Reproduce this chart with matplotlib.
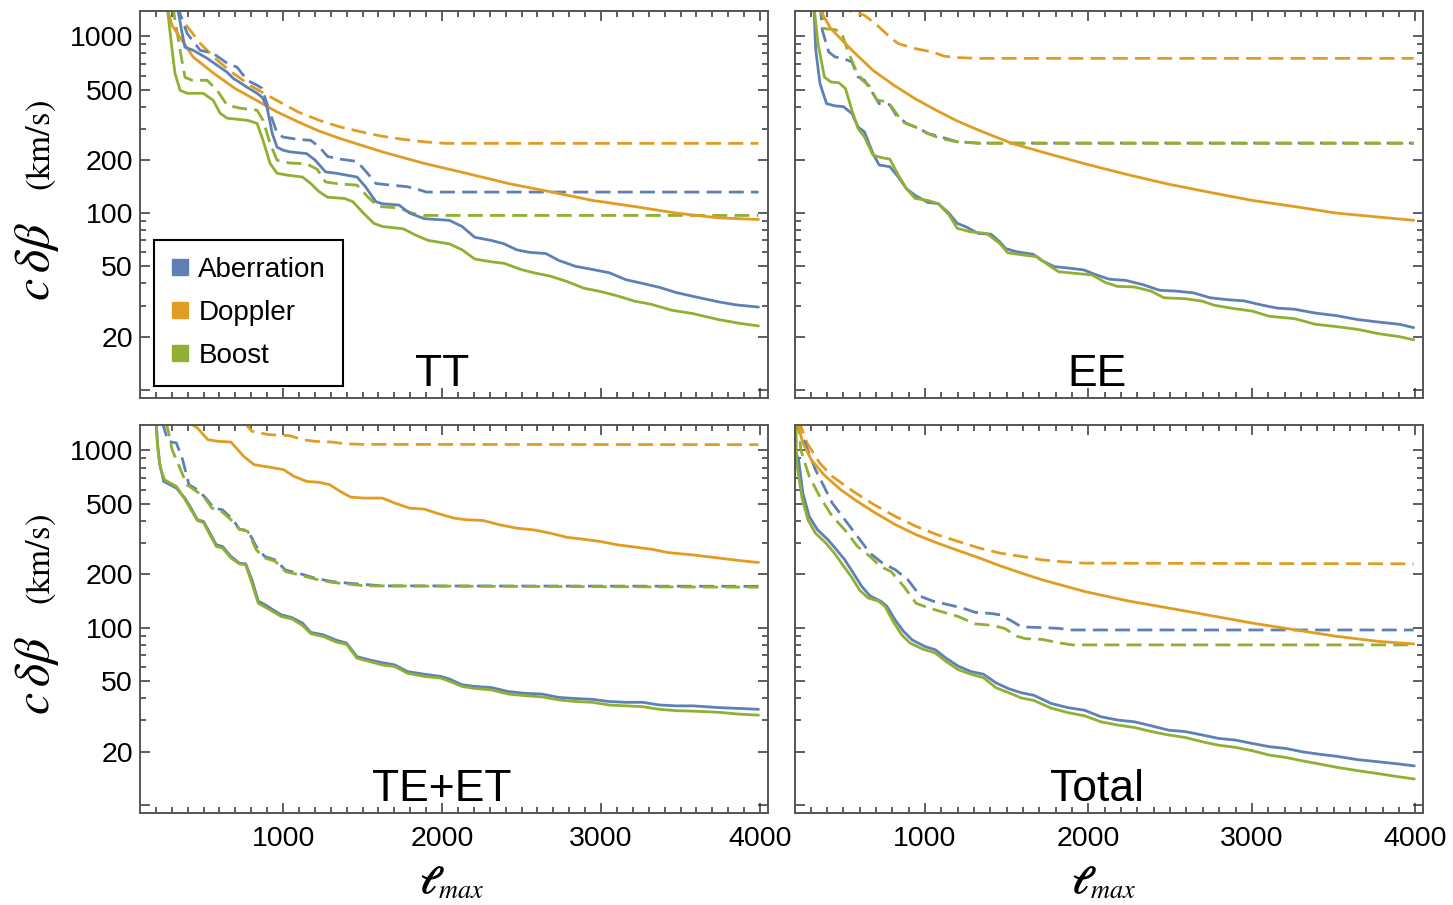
import matplotlib
matplotlib.use('Agg')
import matplotlib.pyplot as plt
from matplotlib.ticker import FixedLocator, FixedFormatter, NullFormatter
from matplotlib.lines import Line2D

plt.rcParams['mathtext.fontset'] = 'stix'
plt.rcParams['font.family'] = ['Liberation Sans', 'DejaVu Sans']

C_AB = '#5E81B5'
C_DO = '#E19C24'
C_BO = '#8FB032'

series_labels = ['Aberration', 'Doppler', 'Boost']
panel_titles = ['TT', 'EE', 'TE+ET', 'Total']
y_major = [10, 20, 50, 100, 200, 500, 1000]
y_major_labels = ['', '20', '50', '100', '200', '500', '1000']
y_minor = [30, 40, 60, 70, 80, 90, 300, 400, 600, 700, 800, 900]
x_major = [1000, 2000, 3000, 4000]
x_minor = list(range(200, 4001, 100))

# ---------------- TT ----------------
tt_ab_l = [333, 365, 383, 434, 522, 585, 648, 686, 774, 836, 870, 899, 931, 962, 1000, 1042, 1148, 1200, 1267, 1333,
           1465, 1518, 1584, 1624, 1730, 1795, 1888, 2046, 2126, 2205, 2311, 2390, 2469, 2549, 2654, 2734, 2839, 2945,
           3051, 3156, 3262, 3368, 3474, 3606, 3738, 3844, 3990]
tt_ab_v = [1500, 1040, 867, 834, 751, 686, 626, 579, 515, 476, 450, 397, 284, 236, 227, 222, 217, 200, 171, 168,
           160, 141, 116, 113, 111, 100, 93, 91, 84, 73, 70, 67, 62, 60, 59, 54, 50, 48,
           46, 42, 40, 38, 35.5, 33.4, 31.5, 30.3, 29.4]
tt_bo_l = [270, 302, 320, 352, 396, 497, 560, 604, 648, 774, 836, 874, 918, 962, 1025, 1122, 1174, 1227, 1280, 1386,
           1439, 1505, 1571, 1624, 1756, 1835, 1914, 2046, 2126, 2205, 2311, 2390, 2496, 2575, 2681, 2786, 2892, 2998,
           3104, 3209, 3315, 3447, 3579, 3738, 3870, 3990]
tt_bo_v = [1500, 834, 618, 495, 476, 476, 435, 367, 344, 335, 322, 258, 191, 168, 164, 160, 147, 132, 123, 121,
           116, 100, 87.5, 84, 81.5, 75, 70, 67, 62, 55, 53, 52, 48, 46, 44, 41, 37.6, 36,
           34, 31.8, 30.5, 28.2, 27, 25, 23.8, 23]
tt_do_l = [270, 302, 434, 566, 699, 831, 963, 1095, 1227, 1359, 1492, 1624, 1888, 2152, 2417, 2681, 2945, 3209,
           3474, 3738, 3990]
tt_do_v = [1450, 1150, 764, 615, 506, 435, 373, 328, 291, 264, 242, 222, 191, 168, 147, 132, 118, 109,
           100, 94, 92]
tt_do_dash_l = [330, 352, 478, 585, 686, 792, 899, 1000, 1095, 1227, 1359, 1492, 1624, 1756, 1888, 2020, 3990]
tt_do_dash_v = [1500, 1285, 913, 732, 618, 528, 465, 415, 373, 335, 307, 288, 272, 261, 253, 248, 248]
tt_ab_dash_l = [333, 396, 478, 560, 648, 711, 774, 836, 868, 918, 962, 1000, 1095, 1174, 1227, 1280, 1359, 1465,
                1531, 1584, 1677, 1782, 1862, 1901, 3990]
tt_ab_dash_v = [1500, 1040, 834, 801, 704, 668, 564, 529, 508, 367, 284, 269, 261, 258, 237, 209, 202, 196,
                168, 147, 144, 141, 135, 131.5, 131.5]
tt_bo_dash_l = [305, 352, 383, 427, 522, 585, 648, 730, 836, 874, 918, 962, 1042, 1148, 1214, 1267, 1359, 1465,
                1531, 1597, 1730, 1809, 1888, 3990]
tt_bo_dash_v = [1500, 834, 586, 564, 564, 495, 408, 392, 382, 335, 248, 199, 192, 190, 177, 150, 146, 144,
                124, 109, 107, 100, 97, 97]

# ---------------- EE ----------------
ee_do_dash_l = [480, 527, 630, 708, 785, 837, 940, 1043, 1120, 1198, 1327, 3990]
ee_do_dash_v = [1550, 1403, 1314, 1154, 991, 909, 852, 816, 771, 758, 750, 750]
ee_do_l = [330, 359, 424, 553, 682, 811, 939, 1068, 1197, 1326, 1532, 1713, 1970, 2228, 2486, 2744, 3001, 3259,
           3517, 3774, 3990]
ee_do_v = [1600, 1403, 1105, 834, 642, 528, 444, 382, 332, 295, 248, 222, 191, 166, 146, 131, 118, 109,
           100, 95, 91]
ee_ab_dash_l = [360, 372, 411, 450, 501, 553, 591, 630, 682, 720, 785, 824, 888, 966, 1017, 1095, 1198, 1330, 3990]
ee_ab_dash_v = [1500, 1081, 816, 764, 748, 716, 588, 564, 474, 416, 410, 358, 321, 301, 282, 270, 253, 249, 249]
ee_bo_dash_l = [370, 385, 450, 488, 527, 578, 617, 656, 707, 772, 811, 862, 940, 1017, 1095, 1198, 1330, 3990]
ee_bo_dash_v = [1500, 1105, 1090, 1058, 834, 642, 564, 529, 435, 426, 382, 328, 307, 282, 264, 253, 248, 248]
ee_ab_l = [320, 332, 358, 398, 450, 501, 553, 591, 630, 682, 720, 785, 837, 888, 940, 1017, 1082, 1146, 1198, 1250,
           1327, 1404, 1456, 1494, 1559, 1662, 1714, 1791, 1869, 1972, 2049, 2127, 2230, 2333, 2436, 2539, 2642,
           2745, 2848, 2951, 3054, 3157, 3260, 3389, 3518, 3647, 3775, 3904, 3990]
ee_ab_v = [1500, 834, 540, 416, 404, 400, 366, 307, 288, 217, 187, 183, 160, 137, 126, 115, 113, 100, 87.5, 83.7,
           76.7, 76, 69, 63, 60.5, 58.5, 54, 49.8, 49, 47.7, 44.7, 42.3, 41.6, 39.4, 36.6, 36.2, 35.4,
           33.2, 32.4, 31.9, 30.3, 29.0, 28.6, 27.2, 26.3, 25.0, 24.2, 23.5, 22.5]
ee_bo_l = [320, 346, 385, 424, 475, 514, 553, 591, 630, 682, 733, 785, 837, 888, 940, 1017, 1082, 1146, 1198, 1275,
           1378, 1456, 1507, 1611, 1688, 1740, 1817, 1920, 2023, 2101, 2178, 2281, 2384, 2462, 2591, 2694, 2771,
           2874, 3003, 3106, 3260, 3389, 3518, 3647, 3775, 3904, 3990]
ee_bo_v = [1500, 909, 588, 552, 545, 506, 382, 301, 270, 213, 206, 202, 164, 137, 121, 118, 113, 98, 82, 78.5,
           76.7, 67.5, 59.6, 57.8, 56.6, 52, 46.6, 45.6, 44.7, 40.6, 38.5, 38.2, 36.2, 33.2, 32.8, 31.8, 30.1,
           29.0, 27.9, 26.1, 25.3, 23.5, 22.8, 22.0, 20.8, 20.0, 19.2]

# ---------------- TE+ET ----------------
te_do_dash_l = [752, 804, 910, 1042, 1122, 1201, 1307, 1386, 1492, 3990]
te_do_dash_v = [1450, 1281, 1226, 1210, 1149, 1124, 1114, 1090, 1081, 1077]
te_do_l = [400, 461, 527, 593, 672, 752, 818, 910, 1003, 1069, 1148, 1227, 1293, 1359, 1425, 1505, 1624, 1703, 1795,
           1888, 1967, 2073, 2152, 2258, 2364, 2469, 2575, 2681, 2786, 2892, 2998, 3104, 3209, 3315, 3421, 3579,
           3738, 3870, 3990]
te_do_v = [1450, 1337, 1149, 1124, 1114, 925, 830, 805, 778, 713, 668, 660, 640, 587, 545, 538, 538, 504, 472,
           466, 442, 415, 406, 402, 380, 364, 356, 341, 323, 315, 306, 293, 285, 277, 265, 257,
           247, 239, 233]
te_ab_dash_l = [240, 276, 329, 368, 408, 461, 514, 566, 619, 685, 725, 778, 831, 884, 950, 1016, 1095, 1201, 1307,
                1412, 1518, 1624, 3990]
te_ab_dash_v = [1450, 1124, 1100, 886, 640, 600, 538, 472, 462, 406, 359, 353, 287, 252, 241, 211, 203, 190, 182,
                178, 175, 172, 171]
te_bo_dash_l = [260, 276, 302, 355, 395, 434, 500, 553, 606, 672, 725, 778, 831, 884, 950, 1016, 1095, 1201, 1307,
                1412, 1518, 3990]
te_bo_dash_v = [1450, 1308, 1009, 778, 640, 605, 550, 472, 458, 406, 359, 349, 275, 247, 237, 207, 199, 188, 180,
                176, 172, 169]
te_ab_l = [200, 210, 223, 249, 289, 329, 382, 421, 461, 500, 540, 580, 619, 672, 725, 765, 804, 844, 884, 937, 989,
           1055, 1122, 1174, 1254, 1333, 1399, 1465, 1544, 1624, 1703, 1782, 1888, 1994, 2046, 2126, 2205, 2311,
           2416, 2522, 2628, 2734, 2839, 2945, 3051, 3156, 3262, 3368, 3474, 3580, 3738, 3870, 3990]
te_ab_v = [1500, 1100, 848, 668, 640, 612, 538, 472, 406, 397, 341, 293, 287, 252, 231, 229, 186, 141, 135, 126, 118,
           114, 106, 94, 91, 85, 81.8, 68.6, 65.7, 63.4, 61.6, 56.5, 54.6, 53.0, 51.3, 47.6, 46.6, 45.9,
           43.6, 42.6, 42.2, 40.4, 39.8, 39.4, 38.3, 37.9, 37.9, 36.6, 36.2, 36.2, 35.4, 35.0, 34.6]
te_bo_l = [200, 210, 228, 255, 289, 329, 382, 421, 461, 500, 540, 580, 619, 672, 725, 765, 804, 844, 884, 937, 989,
           1055, 1122, 1174, 1254, 1333, 1399, 1465, 1544, 1624, 1703, 1782, 1888, 1994, 2046, 2126, 2205, 2311,
           2416, 2522, 2628, 2734, 2839, 2945, 3051, 3156, 3262, 3368, 3474, 3580, 3738, 3870, 3990]
te_bo_v = [1500, 1055, 795, 683, 654, 626, 531, 462, 402, 391, 334, 287, 281, 247, 229, 226, 178, 137, 131, 123,
           115.5, 112, 103, 92.5, 89, 83, 80.5, 67.2, 64.4, 61.6, 60.3, 55.3, 53.0, 51.9, 49.8, 46.6, 45.4, 44.5,
           42.2, 41.3, 40.7, 39.1, 38.3, 37.9, 36.6, 36.2, 35.8, 34.6, 34.0, 33.8, 33.3, 32.5, 32.1]

# ---------------- Total ----------------
tot_do_dash_l = [225, 279, 356, 433, 562, 690, 819, 947, 1076, 1204, 1333, 1461, 1590, 1718, 1847, 1976, 3990]
tot_do_dash_v = [1500, 1100, 848, 713, 586, 493, 424, 372, 334, 306, 281, 263, 252, 241, 235, 231, 229]
tot_do_l = [215, 253, 305, 382, 484, 587, 690, 819, 947, 1076, 1204, 1333, 1461, 1590, 1718, 1976, 2233, 2490, 2747,
            3004, 3261, 3518, 3775, 3990]
tot_do_v = [1500, 1100, 885, 728, 600, 515, 447, 381, 334, 300, 272, 247, 223, 203, 186, 160, 142, 129, 117,
            106, 97.3, 89.3, 83.6, 80.9]
tot_ab_dash_l = [210, 227, 266, 330, 382, 433, 510, 587, 664, 741, 819, 896, 973, 1050, 1153, 1230, 1307, 1410, 1461,
                 1538, 1590, 1718, 1821, 1885, 3990]
tot_ab_dash_v = [1500, 1308, 1100, 778, 626, 504, 406, 327, 263, 231, 212, 186, 150, 141, 134, 129, 122, 120, 118,
                 108, 101, 100, 99, 97, 97]
tot_bo_dash_l = [225, 240, 292, 356, 433, 510, 587, 664, 729, 793, 870, 947, 1024, 1102, 1204, 1307, 1410, 1487,
                 1564, 1616, 1718, 1821, 1898, 3990]
tot_bo_dash_v = [1500, 1009, 713, 550, 424, 356, 287, 252, 221, 207, 171, 137, 129, 123, 115.5, 105, 103, 99,
                 89.3, 86.6, 85.8, 82.1, 79.9, 79.9]
tot_ab_l = [205, 227, 253, 292, 343, 407, 459, 510, 562, 613, 664, 729, 767, 819, 870, 922, 999, 1063, 1127, 1204,
            1281, 1358, 1435, 1513, 1590, 1667, 1770, 1872, 1976, 2078, 2180, 2284, 2387, 2490, 2593, 2696, 2798,
            2901, 3004, 3107, 3210, 3312, 3415, 3518, 3647, 3775, 3878, 3994]
tot_ab_v = [1000, 886, 574, 424, 356, 313, 275, 241, 203, 171, 151, 141, 132, 110, 95, 85.2, 78.3, 75.0, 67.5, 60.6,
            56.5, 54.6, 48.8, 45.2, 42.9, 41.5, 37.4, 35.4, 34.2, 31.4, 30.1, 29.4, 27.9, 26.4, 25.9, 24.8, 23.7,
            23.2, 22.2, 21.3, 20.8, 19.9, 19.3, 18.8, 18.0, 17.5, 17.1, 16.6]
tot_bo_l = [210, 215, 248, 284, 330, 394, 446, 497, 549, 600, 652, 716, 755, 806, 858, 909, 986, 1063, 1127, 1204,
            1281, 1358, 1435, 1513, 1590, 1667, 1770, 1872, 1976, 2078, 2180, 2284, 2387, 2490, 2593, 2696, 2798,
            2901, 3004, 3107, 3210, 3312, 3415, 3518, 3647, 3775, 3878, 3994]
tot_bo_v = [1500, 848, 538, 406, 341, 300, 263, 226, 194, 163, 147, 141, 132, 108, 91, 81.8, 75.7, 72.0, 64.6, 57.9,
            54.6, 52.2, 45.8, 42.9, 40.1, 38.8, 35.2, 33.2, 31.8, 29.4, 28.2, 27.3, 25.9, 24.8, 24.0, 22.7, 21.7,
            21.1, 20.2, 19.1, 18.5, 17.7, 17.0, 16.3, 15.6, 15.0, 14.5, 14.0]

YMIN, YMAX = 9.0, 1390
XLIM_LEFT = (100, 4050)
XLIM_RIGHT = (205, 4047)

fig = plt.figure(figsize=(14.53, 9.05), dpi=100)
W, H = 1453.0, 905.0
ax_tt = fig.add_axes([140 / W, 1 - 398 / H, 628 / W, 387 / H])
ax_ee = fig.add_axes([795 / W, 1 - 398 / H, 628 / W, 387 / H])
ax_te = fig.add_axes([140 / W, 1 - 813 / H, 628 / W, 388 / H])
ax_to = fig.add_axes([795 / W, 1 - 813 / H, 628 / W, 388 / H])

LW = 2.0


def line(ax, l, v, color, dashed):
    if dashed:
        ax.plot(l, v, color=color, lw=LW, ls='--', dashes=(5.4, 2.6), dash_joinstyle='round', dash_capstyle='butt')
    else:
        ax.plot(l, v, color=color, lw=LW, solid_joinstyle='round', solid_capstyle='round')


def style(ax, xlim, show_x, show_y, title):
    ax.set_yscale('log')
    ax.set_xlim(*xlim)
    ax.set_ylim(YMIN, YMAX)
    ax.yaxis.set_major_locator(FixedLocator(y_major))
    ax.yaxis.set_major_formatter(FixedFormatter(y_major_labels))
    ax.yaxis.set_minor_locator(FixedLocator(y_minor))
    ax.yaxis.set_minor_formatter(NullFormatter())
    ax.xaxis.set_major_locator(FixedLocator(x_major))
    ax.xaxis.set_major_formatter(FixedFormatter([str(v) for v in x_major]))
    ax.xaxis.set_minor_locator(FixedLocator(x_minor))
    ax.xaxis.set_minor_formatter(NullFormatter())
    ax.tick_params(which='both', direction='in', top=True, right=True, color='#333333', width=1.1)
    ax.tick_params(which='major', length=7.5)
    ax.tick_params(which='minor', length=4)
    ax.tick_params(axis='x', labelbottom=show_x, labelsize=20.5, pad=9)
    ax.tick_params(axis='y', labelleft=show_y, labelsize=20.5, pad=5)
    for s in ax.spines.values():
        s.set_color('#555555')
        s.set_linewidth(1.4)
    ax.text(0.481, 0.03, title, transform=ax.transAxes, ha='center', va='baseline', fontsize=32)


# TT
line(ax_tt, tt_do_dash_l, tt_do_dash_v, C_DO, True)
line(ax_tt, tt_ab_dash_l, tt_ab_dash_v, C_AB, True)
line(ax_tt, tt_bo_dash_l, tt_bo_dash_v, C_BO, True)
line(ax_tt, tt_do_l, tt_do_v, C_DO, False)
line(ax_tt, tt_ab_l, tt_ab_v, C_AB, False)
line(ax_tt, tt_bo_l, tt_bo_v, C_BO, False)
style(ax_tt, XLIM_LEFT, False, True, panel_titles[0])

# EE
line(ax_ee, ee_do_dash_l, ee_do_dash_v, C_DO, True)
line(ax_ee, ee_ab_dash_l, ee_ab_dash_v, C_AB, True)
line(ax_ee, ee_bo_dash_l, ee_bo_dash_v, C_BO, True)
line(ax_ee, ee_do_l, ee_do_v, C_DO, False)
line(ax_ee, ee_ab_l, ee_ab_v, C_AB, False)
line(ax_ee, ee_bo_l, ee_bo_v, C_BO, False)
style(ax_ee, XLIM_RIGHT, False, False, panel_titles[1])

# TE+ET
line(ax_te, te_do_dash_l, te_do_dash_v, C_DO, True)
line(ax_te, te_ab_dash_l, te_ab_dash_v, C_AB, True)
line(ax_te, te_bo_dash_l, te_bo_dash_v, C_BO, True)
line(ax_te, te_do_l, te_do_v, C_DO, False)
line(ax_te, te_ab_l, te_ab_v, C_AB, False)
line(ax_te, te_bo_l, te_bo_v, C_BO, False)
style(ax_te, XLIM_LEFT, True, True, panel_titles[2])

# Total
line(ax_to, tot_do_dash_l, tot_do_dash_v, C_DO, True)
line(ax_to, tot_ab_dash_l, tot_ab_dash_v, C_AB, True)
line(ax_to, tot_bo_dash_l, tot_bo_dash_v, C_BO, True)
line(ax_to, tot_do_l, tot_do_v, C_DO, False)
line(ax_to, tot_ab_l, tot_ab_v, C_AB, False)
line(ax_to, tot_bo_l, tot_bo_v, C_BO, False)
style(ax_to, XLIM_RIGHT, True, False, panel_titles[3])

# legend
handles = [Line2D([], [], ls='none', marker='s', ms=12, mfc=c, mec=c) for c in (C_AB, C_DO, C_BO)]
leg = ax_tt.legend(handles, series_labels, loc='upper left', bbox_to_anchor=(0.022, 0.408),
                   frameon=True, fancybox=False, edgecolor='black', framealpha=1,
                   prop={'family': 'Liberation Sans', 'size': 20}, handlelength=0.7, handletextpad=0.3,
                   labelspacing=0.62, borderpad=0.6, borderaxespad=0)
leg.get_frame().set_linewidth(1.5)

# y labels
for yc, yk in ((1 - 262 / H, 1 - 145 / H), (1 - 676 / H, 1 - 559 / H)):
    fig.text(0.034, yc, r'$c\,\delta\beta$', rotation=90, rotation_mode='anchor', ha='center', va='baseline',
             fontsize=36)
    fig.text(0.034, yk, r'$\mathrm{(km/s)}$', rotation=90, rotation_mode='anchor', ha='center', va='baseline',
             fontsize=25)

# x labels
for xc in (452 / W, 1104 / W):
    fig.text(xc, 1 - 884 / H, r'$\boldsymbol{\ell}_{max}$', ha='center', va='center', fontsize=27)

fig.savefig('out.png', dpi=100, facecolor='white')
